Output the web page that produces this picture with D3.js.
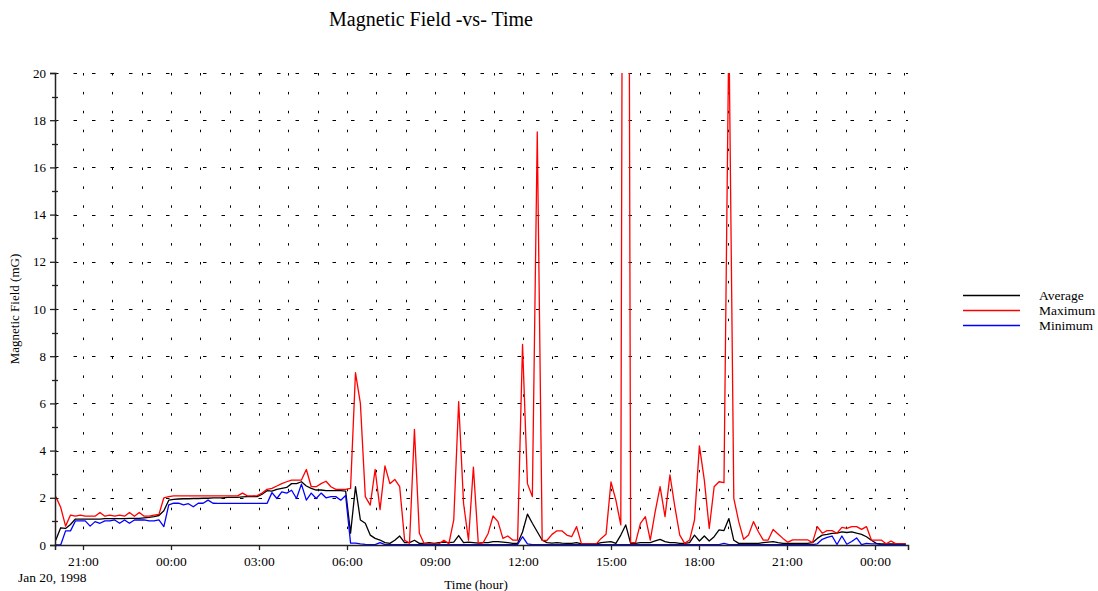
<!DOCTYPE html>
<html>
<head>
<meta charset="utf-8">
<script src="https://cdn.jsdelivr.net/npm/d3@7"></script>
<style>
body { margin: 0; background: #fff; }
svg { display: block; }
text { font-family: "Liberation Serif", "Times New Roman", serif; fill: #000; }
</style>
</head>
<body>
<div id="chart"></div>
<script>
// readings every ~10 min from 20:04 Jan 20, 1998
var startTime = Date.UTC(1998, 0, 20, 20, 4, 18);
var stepMinutes = 10.05;

var seriesNames = ["Average", "Maximum", "Minimum"];
var seriesColors = ["#000000", "#ff0000", "#0000ff"];

var avgValues = [0.2,0.73,0.7,0.87,1.1,1.1,1.1,1.1,1.1,1.1,1.12,1.12,1.12,1.12,1.12,1.13,1.13,1.13,1.15,1.17,
  1.2,1.25,1.45,1.9,1.93,1.95,1.96,1.96,1.97,1.97,1.98,1.98,2.0,2.0,2.0,2.02,2.02,2.02,2.04,2.05,
  2.05,2.05,2.15,2.3,2.28,2.36,2.4,2.44,2.6,2.6,2.68,2.5,2.4,2.33,2.33,2.3,2.3,2.3,2.3,2.28,
  0.5,2.47,1.06,0.92,0.42,0.28,0.21,0.1,0.07,0.2,0.38,0.1,0.1,0.2,0.07,0.07,0.1,0.07,0.1,0.12,
  0.1,0.12,0.4,0.1,0.12,0.1,0.08,0.1,0.1,0.14,0.14,0.12,0.1,0.07,0.07,0.55,1.31,0.92,0.56,0.2,
  0.1,0.08,0.1,0.08,0.07,0.07,0.1,0.05,0.05,0.05,0.05,0.1,0.12,0.14,0.07,0.42,0.85,0.07,0.07,0.1,
  0.1,0.1,0.17,0.24,0.14,0.1,0.1,0.07,0.07,0.1,0.42,0.17,0.38,0.17,0.35,0.64,0.61,1.12,0.2,0.07,
  0.07,0.07,0.07,0.07,0.1,0.12,0.14,0.1,0.07,0.07,0.07,0.07,0.07,0.07,0.1,0.28,0.42,0.45,0.49,0.5,
  0.56,0.53,0.56,0.5,0.45,0.35,0.2,0.07,0.05,0.05,0.05,0.05,0.05,0.05];

var maxValues = [2.05,1.6,0.8,1.27,1.22,1.27,1.22,1.22,1.22,1.38,1.22,1.27,1.22,1.27,1.22,1.38,1.22,1.38,1.22,1.22,
  1.27,1.3,2.0,2.05,2.08,2.08,2.08,2.08,2.08,2.08,2.08,2.08,2.08,2.08,2.08,2.08,2.08,2.08,2.2,2.08,
  2.08,2.09,2.2,2.36,2.4,2.5,2.6,2.68,2.75,2.75,2.75,3.2,2.47,2.47,2.6,2.7,2.47,2.36,2.36,2.36,
  2.4,7.3,6.0,2.05,1.69,3.2,1.5,3.35,2.6,2.78,2.47,0.2,0.08,4.9,0.5,0.05,0.05,0.05,0.05,0.2,
  0.05,1.06,6.07,1.76,0.2,3.3,0.05,0.1,0.49,1.23,0.99,0.28,0.38,0.21,0.21,8.5,2.6,2.05,17.5,0.2,
  0.2,0.45,0.6,0.6,0.42,0.35,0.78,0.05,0.05,0.05,0.05,0.28,0.46,2.67,1.9,0.85,80,0.1,0.1,0.92,
  1.2,0.21,1.41,2.47,1.2,2.97,1.62,0.42,0.07,0.21,1.06,4.2,2.75,0.7,2.47,2.68,2.64,22,1.98,0.99,
  0.24,0.42,0.99,0.56,0.21,0.21,0.66,0.47,0.28,0.12,0.22,0.22,0.22,0.22,0.1,0.78,0.5,0.61,0.61,0.5,
  0.75,0.7,0.78,0.78,0.66,0.78,0.21,0.21,0.21,0.05,0.17,0.05,0.05,0.05];

var minValues = [0,0,0.6,0.6,1.02,1.02,1.02,0.8,0.99,0.92,1.02,1.02,1.06,0.92,1.06,0.92,1.06,1.06,1.06,1.02,
  1.02,1.06,0.78,1.7,1.77,1.77,1.7,1.75,1.62,1.77,1.77,1.9,1.77,1.76,1.76,1.76,1.76,1.76,1.76,1.76,
  1.76,1.76,1.76,1.76,2.22,1.97,2.25,2.2,2.32,1.97,2.58,1.9,2.2,1.97,2.2,2.0,2.05,2.05,1.9,2.1,
  0.08,0.08,0.05,0.03,0.02,0.02,0.1,0.02,0.02,0.02,0.02,0.02,0.02,0.02,0.02,0.02,0.02,0.02,0.02,0.02,
  0.02,0.02,0.02,0.02,0.02,0.02,0.02,0.02,0.02,0.02,0.02,0.02,0.02,0.02,0.02,0.35,0.05,0.02,0.02,0.02,
  0.02,0.02,0.02,0.02,0.02,0.02,0.02,0.02,0.02,0.02,0.02,0.02,0.02,0.02,0.02,0.02,0.02,0.02,0.02,0.02,
  0.02,0.02,0.02,0.02,0.02,0.02,0.02,0.02,0.02,0.02,0.02,0.02,0.02,0.02,0.02,0.02,0.07,0.02,0.02,0.02,
  0.02,0.02,0.02,0.02,0.02,0.02,0.02,0.02,0.02,0.02,0.02,0.02,0.02,0.02,0.02,0.05,0.24,0.32,0.38,0.02,
  0.38,0.03,0.15,0.3,0.02,0.07,0.05,0.05,0.02,0.02,0.02,0.02,0.02,0.02];

var yTicks = [0, 2, 4, 6, 8, 10, 12, 14, 16, 18, 20];

var width = 1098, height = 591;
var plotLeft = 55, plotRight = 908, plotTop = 73, plotBottom = 545;

var svg = d3.select("#chart").append("svg")
    .attr("width", width)
    .attr("height", height);

var x = d3.scaleUtc()
    .domain([Date.UTC(1998, 0, 20, 20, 2, 45), Date.UTC(1998, 0, 22, 1, 7, 30)])
    .range([plotLeft, plotRight]);

var y = d3.scaleLinear()
    .domain([0, 20])
    .range([plotBottom, plotTop]);

function snap(v) { return Math.round(v) + 0.5; }

// grid
var hours = d3.utcHour.range(x.domain()[0], x.domain()[1]);
svg.append("g").selectAll("line")
    .data(hours)
    .enter().append("line")
    .attr("x1", function(d) { return snap(x(d)); })
    .attr("x2", function(d) { return snap(x(d)); })
    .attr("y1", plotTop)
    .attr("y2", plotBottom)
    .attr("stroke", "#000")
    .attr("stroke-width", 1)
    .attr("stroke-dasharray", "2.5,16.4");

svg.append("g").selectAll("line")
    .data(yTicks.filter(function(d) { return d > 0; }))
    .enter().append("line")
    .attr("x1", plotLeft)
    .attr("x2", plotRight)
    .attr("y1", function(d) { return snap(y(d)); })
    .attr("y2", function(d) { return snap(y(d)); })
    .attr("stroke", "#000")
    .attr("stroke-width", 1)
    .attr("stroke-dasharray", "3.5,15");

// lines
svg.append("clipPath").attr("id", "plot-clip")
  .append("rect")
    .attr("x", plotLeft).attr("y", plotTop)
    .attr("width", plotRight - plotLeft).attr("height", plotBottom - plotTop + 2);

var line = d3.line()
    .x(function(d, i) { return x(startTime + i * stepMinutes * 60000); })
    .y(function(d) { return y(d); });

[avgValues, maxValues, minValues].forEach(function(vals, k) {
    svg.append("path")
        .datum(vals)
        .attr("clip-path", "url(#plot-clip)")
        .attr("fill", "none")
        .attr("stroke", seriesColors[k])
        .attr("stroke-width", 1.3)
        .attr("stroke-linejoin", "round")
        .attr("d", line);
});

// y axis
var yAxis = svg.append("g")
    .attr("transform", "translate(" + plotLeft + ",0)")
    .call(d3.axisLeft(y).tickValues(yTicks).tickSize(5).tickPadding(4));
yAxis.select(".domain").attr("stroke", "#222").attr("stroke-width", 1.5);
yAxis.selectAll(".tick line").attr("x2", -5).attr("x1", 2).attr("stroke", "#222").attr("stroke-width", 1.3);
yAxis.selectAll(".tick text")
    .attr("font-family", "Liberation Serif")
    .attr("font-size", 13);

yAxis.selectAll(".minor")
    .data(d3.range(1, 20, 2))
    .enter().append("line")
    .attr("class", "minor")
    .attr("x1", -3).attr("x2", 3)
    .attr("y1", function(d) { return snap(y(d)); })
    .attr("y2", function(d) { return snap(y(d)); })
    .attr("stroke", "#222").attr("stroke-width", 1.3);

// x axis
var xAxis = svg.append("g")
    .attr("transform", "translate(0," + plotBottom + ")")
    .call(d3.axisBottom(x).ticks(d3.utcHour.every(3)).tickSize(5).tickPadding(6)
        .tickFormat(d3.utcFormat("%H:%M")));
xAxis.select(".domain").attr("stroke", "#222").attr("stroke-width", 1.5);
xAxis.selectAll(".tick line").attr("stroke", "#222").attr("stroke-width", 1.3);
xAxis.selectAll(".tick text")
    .attr("font-family", "Liberation Serif")
    .attr("font-size", 13.5);

// texts
svg.append("text")
    .attr("x", 431).attr("y", 26)
    .attr("text-anchor", "middle")
    .attr("font-size", 20)
    .text("Magnetic Field -vs- Time");

svg.append("text")
    .attr("x", 18).attr("y", 582)
    .attr("font-size", 13.5)
    .text("Jan 20, 1998");

svg.append("text")
    .attr("x", 476).attr("y", 589)
    .attr("text-anchor", "middle")
    .attr("font-size", 13.2)
    .text("Time (hour)");

svg.append("text")
    .attr("transform", "translate(19,309) rotate(-90)")
    .attr("text-anchor", "middle")
    .attr("font-size", 13)
    .text("Magnetic Field (mG)");

// legend
var legend = svg.append("g").attr("transform", "translate(963,295)");
seriesNames.forEach(function(name, k) {
    legend.append("line")
        .attr("x1", 0).attr("x2", 57)
        .attr("y1", k * 15 + 0.5).attr("y2", k * 15 + 0.5)
        .attr("stroke", seriesColors[k])
        .attr("stroke-width", k == 0 ? 1.5 : 1.3);
    legend.append("text")
        .attr("x", 76).attr("y", k * 15 + 5)
        .attr("font-size", 13.5)
        .text(name);
});
</script>
</body>
</html>
